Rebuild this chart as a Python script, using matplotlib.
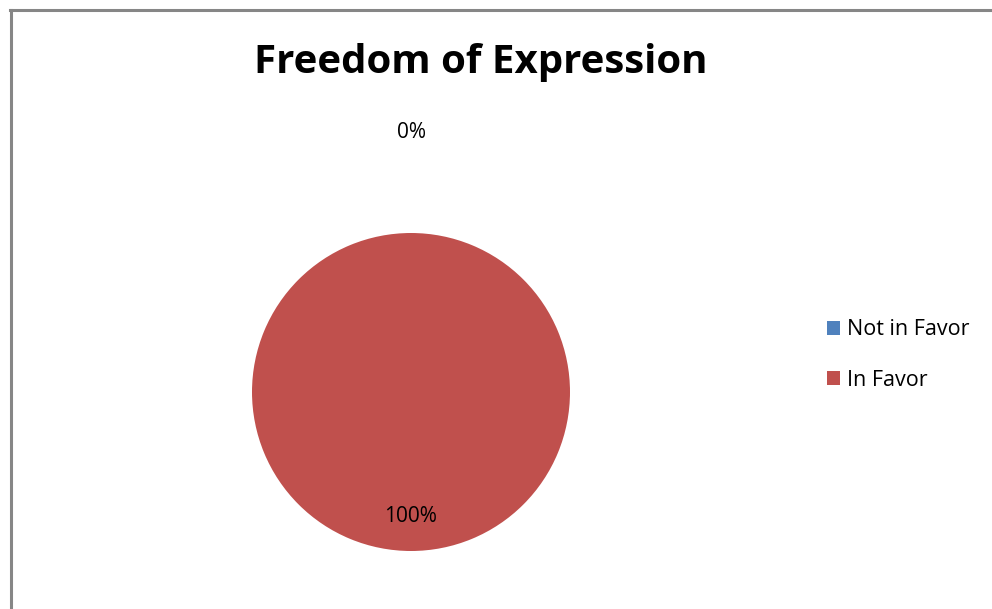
import matplotlib
matplotlib.use('Agg')
import matplotlib.pyplot as plt
from matplotlib.patches import Patch
from matplotlib.lines import Line2D
import numpy as np

categories = ['Not in Favor', 'In Favor']
values = [0, 100]
colors = ['#4F81BD', '#C0504D']
label_dist = [1.63, 0.78]

W, H = 992, 609
fig = plt.figure(figsize=(W / 100, H / 100), dpi=100)
plt.rcParams['font.family'] = ['Open Sans', 'DejaVu Sans']

# Chart border (only left and top visible)
fig.add_artist(Line2D([11 / W, 11 / W], [0, 1 - 10 / H], transform=fig.transFigure,
                      color='#868686', linewidth=2.2))
fig.add_artist(Line2D([10 / W, 1], [1 - 10 / H, 1 - 10 / H], transform=fig.transFigure,
                      color='#868686', linewidth=2.2))

cx, cy, r = 411, H - 392, 159
ax = fig.add_axes([(cx - r) / W, (cy - r) / H, 2 * r / W, 2 * r / H])
wedges, _ = ax.pie(values, colors=colors, startangle=90, counterclock=False,
                   wedgeprops=dict(linewidth=0))
ax.set_xlim(-1, 1)
ax.set_ylim(-1, 1)

total = sum(values)
for w, v, d in zip(wedges, values, label_dist):
    ang = np.deg2rad((w.theta1 + w.theta2) / 2)
    ax.text(d * np.cos(ang), d * np.sin(ang), f'{v / total * 100:.0f}%',
            ha='center', va='center', fontsize=15)

fig.text(481 / W, 1 - 62 / H, 'Freedom of Expression', ha='center', va='center',
         fontsize=29, fontweight='bold')

handles = [Patch(facecolor=c, edgecolor='none') for c in colors]
fig.legend(handles, categories, loc='center left', bbox_to_anchor=(808 / W, 1 - 355 / H),
           frameon=False, fontsize=15.5, handlelength=0.6, handleheight=0.6,
           handletextpad=0.3, labelspacing=1.35)

fig.savefig('out.png', dpi=100)
